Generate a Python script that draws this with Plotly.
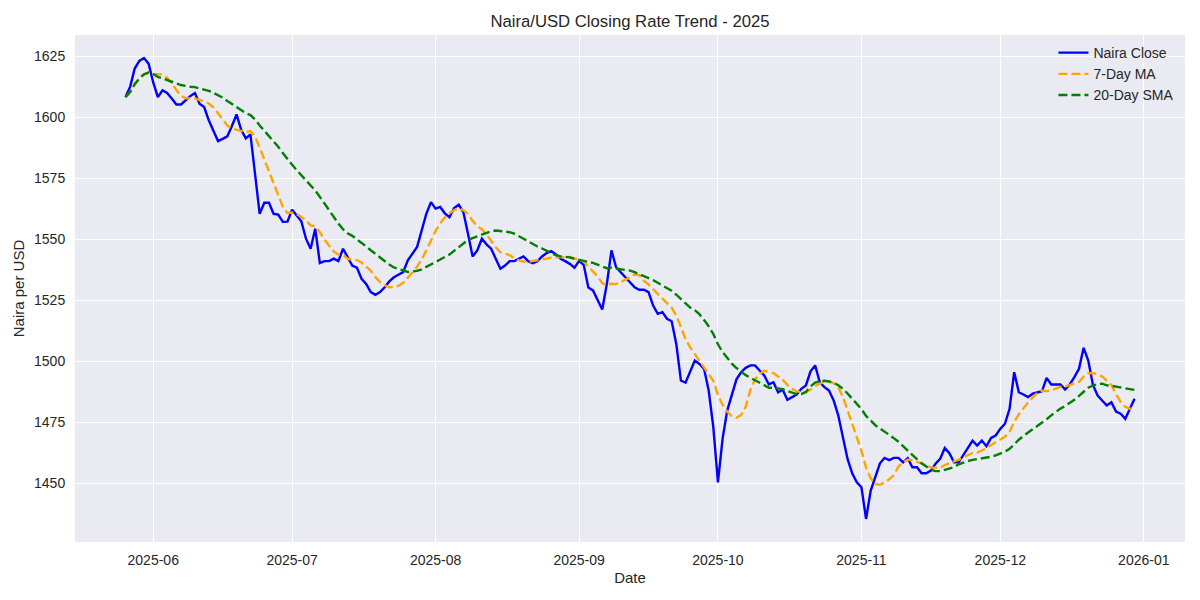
import pandas as pd
import plotly.graph_objects as go

start_date = "2025-05-26"
naira_close = [
    1608.3, 1612.4, 1620.0, 1623.1, 1624.3, 1622.0, 1614.3, 1608.3, 1611.1, 1610.0,
    1607.7, 1605.3, 1605.3, 1607.2, 1608.7, 1610.0, 1605.6, 1604.2, 1598.8, 1594.5,
    1590.3, 1591.2, 1592.2, 1596.5, 1601.2, 1594.9, 1591.4, 1593.0, 1575.5, 1560.5,
    1565.0, 1565.0, 1560.5, 1560.2, 1557.2, 1557.3, 1562.2, 1559.8, 1557.4, 1550.3,
    1546.2, 1554.4, 1540.3, 1541.1, 1541.1, 1542.1, 1541.1, 1546.2, 1542.7, 1539.3,
    1538.4, 1533.9, 1531.8, 1528.4, 1527.3, 1528.4, 1530.4, 1532.8, 1534.5, 1535.5,
    1536.6, 1541.4, 1544.0, 1546.9, 1553.7, 1560.5, 1565.3, 1562.6, 1563.3, 1560.7,
    1559.1, 1562.9, 1564.2, 1561.2, 1552.3, 1543.0, 1545.5, 1550.3, 1548.0, 1546.2,
    1542.1, 1538.0, 1539.3, 1541.1, 1541.1, 1542.1, 1543.0, 1541.1, 1540.3, 1541.1,
    1543.0, 1544.4, 1545.2, 1543.9, 1542.1, 1541.1, 1540.0, 1538.4, 1541.2, 1539.6,
    1530.3, 1529.1, 1525.3, 1521.3, 1531.8, 1545.5, 1538.6, 1536.6, 1534.5, 1532.5,
    1530.4, 1529.4, 1529.4, 1528.4, 1522.9, 1519.5, 1520.2, 1517.5, 1516.5, 1507.2,
    1492.2, 1491.3, 1495.6, 1500.4, 1499.0, 1497.0, 1488.1, 1473.1, 1450.5, 1468.3,
    1479.9, 1486.0, 1492.7, 1495.6, 1497.4, 1498.4, 1498.4, 1496.3, 1494.3, 1490.6,
    1491.5, 1487.4, 1488.4, 1484.3, 1485.4, 1486.5, 1488.8, 1490.2, 1496.0, 1498.4,
    1491.5, 1489.5, 1488.1, 1484.0, 1477.9, 1469.0, 1460.1, 1454.2, 1450.5, 1448.5,
    1435.5, 1447.1, 1452.6, 1458.3, 1460.5, 1459.6, 1460.5, 1460.5, 1458.7, 1460.4,
    1456.7, 1456.7, 1454.2, 1454.2, 1455.3, 1458.1, 1460.1, 1464.6, 1462.4, 1458.7,
    1458.7, 1461.5, 1464.6, 1467.6, 1465.6, 1467.6, 1465.3, 1468.7, 1469.7, 1472.4,
    1474.5, 1480.6, 1495.6, 1487.4, 1486.5, 1485.4, 1486.8, 1487.4, 1487.8, 1493.3,
    1490.6, 1490.6, 1490.6, 1488.5, 1490.6, 1493.6, 1497.0, 1505.6, 1500.4, 1490.5,
    1486.1, 1484.0, 1482.0, 1483.3, 1479.5, 1478.6, 1476.5, 1480.6, 1484.7,
]
series_names = ["Naira Close", "7-Day MA", "20-Day SMA"]
y_ticks = [1450, 1475, 1500, 1525, 1550, 1575, 1600, 1625]

dates = pd.date_range(start_date, periods=len(naira_close), freq="D")
s = pd.Series(naira_close, index=dates)
ma7 = s.rolling(7, min_periods=1).mean()
sma20 = s.rolling(20, min_periods=1).mean()

FONT = "Liberation Sans, Arial, sans-serif"
TXT = "#262626"

fig = go.Figure()
fig.add_trace(go.Scatter(x=dates, y=s.values, mode="lines", name=series_names[0],
                         line=dict(color="#0000FF", width=2.4)))
fig.add_trace(go.Scatter(x=dates, y=ma7.values, mode="lines", name=series_names[1],
                         line=dict(color="#FFA500", width=2.4, dash="9px,4px")))
fig.add_trace(go.Scatter(x=dates, y=sma20.values, mode="lines", name=series_names[2],
                         line=dict(color="#008000", width=2.4, dash="9px,4px")))

span = dates[-1] - dates[0]
pad = span * 0.05
vmin, vmax = min(naira_close), max(naira_close)
vpad = (vmax - vmin) * 0.05

fig.update_layout(
    width=1200, height=600,
    margin=dict(l=75, r=15, t=35, b=58),
    paper_bgcolor="white", plot_bgcolor="#EAEAF2",
    font=dict(family=FONT, color=TXT, size=14),
    title=dict(text="Naira/USD Closing Rate Trend - 2025", x=0.525, xanchor="center",
               y=1 - 21 / 600, yanchor="middle", font=dict(size=16.7, color=TXT)),
    showlegend=True,
    legend=dict(x=0.995, xanchor="right", y=0.996, yanchor="top",
                bgcolor="rgba(0,0,0,0)", font=dict(size=14, color=TXT),
                itemwidth=30, tracegroupgap=0),
)
fig.update_xaxes(
    type="date", range=[dates[0] - pad, dates[-1] + pad],
    dtick="M1", tick0="2025-06-01", tickformat="%Y-%m",
    showgrid=True, gridcolor="white", gridwidth=1.2, zeroline=False, showline=False,
    ticks="outside", ticklen=5, tickcolor="rgba(0,0,0,0)",
    tickfont=dict(size=14, color=TXT),
    title=dict(text="Date", font=dict(size=15, color=TXT), standoff=5),
)
fig.update_yaxes(
    range=[vmin - vpad, vmax + vpad], tickvals=y_ticks,
    showgrid=True, gridcolor="white", gridwidth=1.2, zeroline=False, showline=False,
    ticks="outside", ticklen=6, tickcolor="rgba(0,0,0,0)",
    tickfont=dict(size=14, color=TXT),
    title=dict(text="Naira per USD", font=dict(size=15, color=TXT), standoff=5),
)

fig.write_html("out.html")
